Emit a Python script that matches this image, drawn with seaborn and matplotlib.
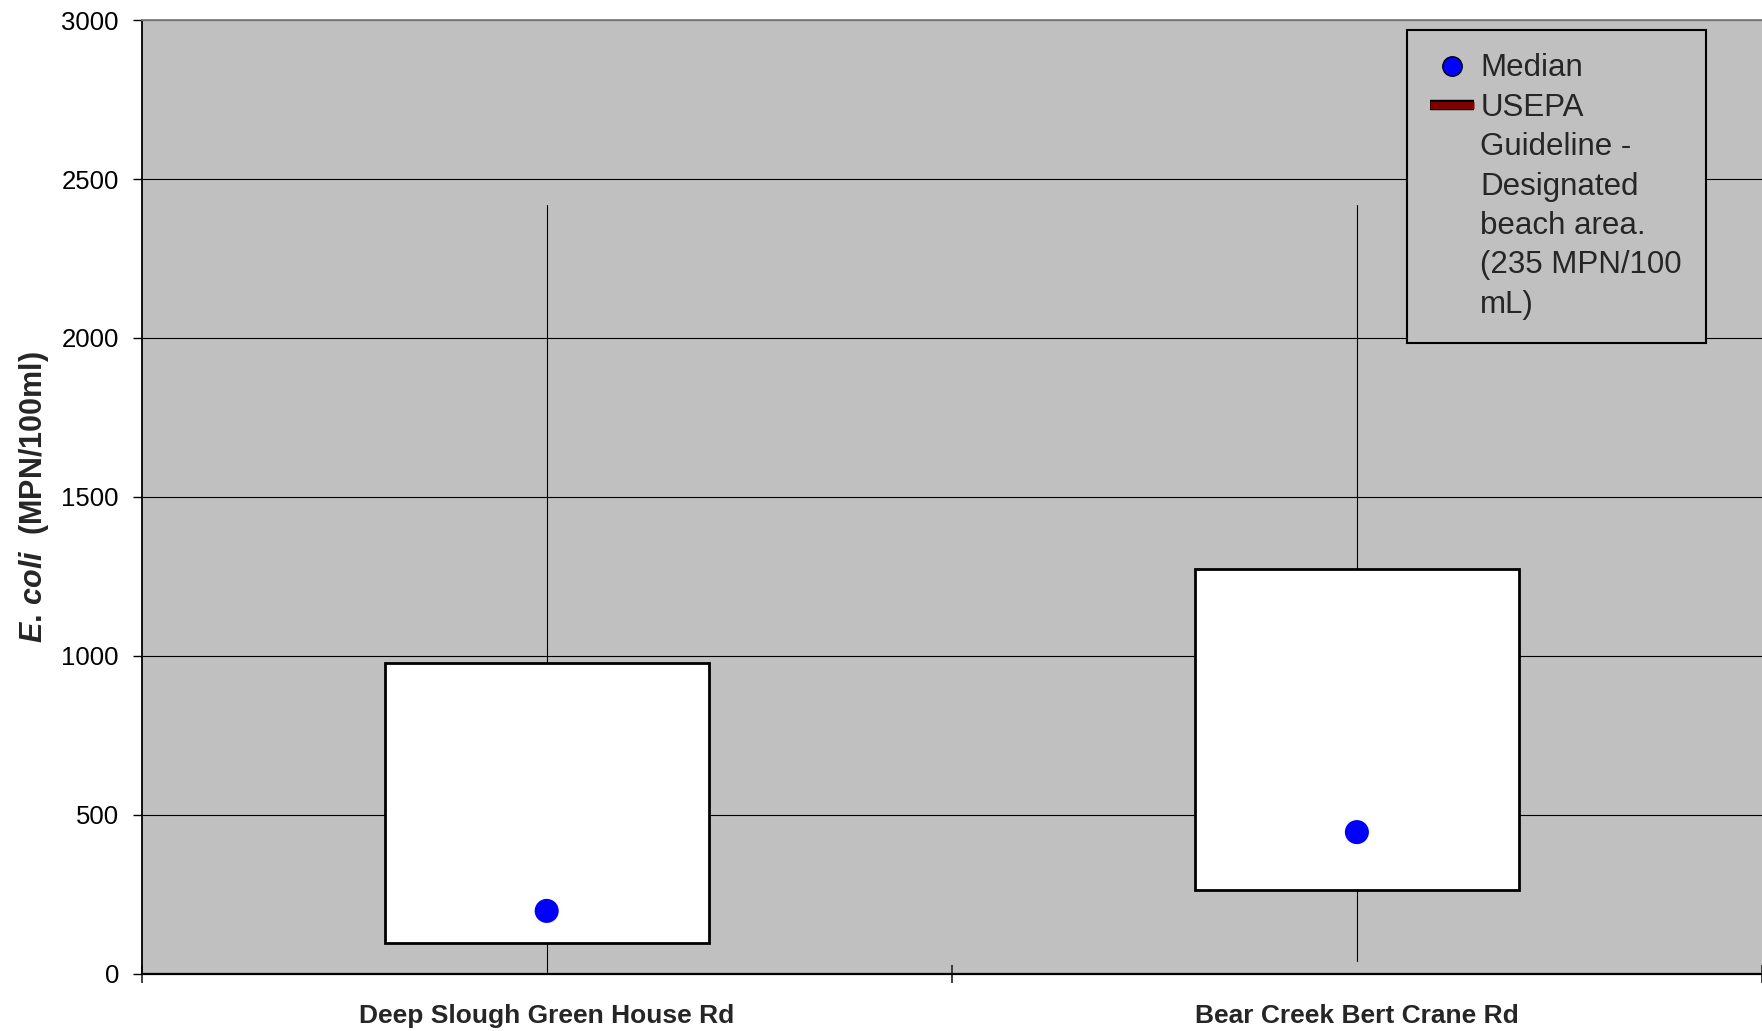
import matplotlib
matplotlib.use("Agg")
import matplotlib.pyplot as plt
import matplotlib.patheffects as pe
from matplotlib.lines import Line2D
import seaborn as sns
import numpy as np

# === Data ===
sites = ["Deep Slough Green House Rd", "Bear Creek Bert Crane Rd"]
whisker_low = [5, 40]
q1 = [95, 263]
medians = [197, 445]
q3 = [978, 1274]
whisker_high = [2419.6, 2419.6]

y_ticks = [0, 500, 1000, 1500, 2000, 2500, 3000]
guide_label_lines = ["USEPA", "Guideline -", "Designated", "beach area.",
                     "(235 MPN/100", "mL)"]

sns.set_theme(style="white")
plt.rcParams["font.family"] = ["Liberation Sans", "DejaVu Sans"]
plt.rcParams["mathtext.fontset"] = "custom"
plt.rcParams["mathtext.it"] = "Liberation Sans:italic:bold"
plt.rcParams["mathtext.rm"] = "Liberation Sans:bold"

fig = plt.figure(figsize=(17.62, 10.31), dpi=100)
ax = fig.add_axes([141.6 / 1762, 1 - 973.5 / 1031, 1 - 141.6 / 1762, (973.5 - 20.2) / 1031])
ax.set_facecolor("#C0C0C0")

positions = np.arange(len(sites))
stats = [
    {"whislo": lo, "q1": a, "med": m, "q3": b, "whishi": hi}
    for lo, a, m, b, hi in zip(whisker_low, q1, medians, q3, whisker_high)
]
ax.bxp(stats, positions=positions, widths=0.4, patch_artist=True,
       showcaps=False, showfliers=False,
       boxprops=dict(facecolor="white", edgecolor="black", linewidth=2.0),
       whiskerprops=dict(color="black", linewidth=0.8),
       medianprops=dict(linewidth=0))

sns.scatterplot(x=positions, y=medians, ax=ax, s=300, color="#0000FF",
                edgecolor="none", zorder=5, legend=False)

# axes styling
ax.set_xlim(-0.5, 1.5)
ax.set_ylim(0, 3000)
ax.set_yticks(y_ticks)
ax.set_yticklabels([str(v) for v in y_ticks], fontsize=18.5)
ax.yaxis.grid(True, color="black", linewidth=0.8)
ax.xaxis.grid(False)
ax.set_axisbelow(True)
ax.tick_params(axis="y", direction="out", length=6.3, width=1, pad=10, left=True, colors="black")

ax.set_xticks([-0.5, 0.5, 1.5])
ax.set_xticklabels([])
ax.tick_params(axis="x", which="major", direction="inout", length=12.5, width=1.3, bottom=True, color="#333333")
ax.set_xticks(positions, minor=True)
ax.set_xticklabels(sites, minor=True, fontsize=19, fontweight="bold")
ax.tick_params(axis="x", which="minor", length=0, pad=22)

for side in ["left", "bottom"]:
    ax.spines[side].set_color("black")
ax.spines["left"].set_linewidth(1.3)
ax.spines["bottom"].set_linewidth(1.6)
ax.spines["top"].set_color("#808080")
ax.spines["top"].set_linewidth(1.3)
ax.spines["right"].set_visible(False)

ax.set_ylabel(r"$\mathit{E.\,coli}$  (MPN/100ml)", fontsize=22, fontweight="bold")
ax.yaxis.set_label_coords((51 - 141.6) / 1620.4, 0.5)

# legend
median_handle = Line2D([], [], ls="none", marker="o", ms=14, mfc="#0000FF", mec="black", mew=1)
guide_handle = Line2D([], [], color="#800000", lw=5, solid_capstyle="butt",
                      path_effects=[pe.Stroke(linewidth=7.5, foreground="black"), pe.Normal()])
blank = Line2D([], [], ls="none")
handles = [median_handle, guide_handle] + [blank] * (len(guide_label_lines) - 1)
labels = ["Median"] + guide_label_lines
leg = ax.legend(handles, labels, loc="upper left",
                bbox_to_anchor=(1407 / 1762, 1 - 30 / 1031), bbox_transform=fig.transFigure,
                borderaxespad=0, fontsize=22.5, frameon=True, fancybox=False,
                facecolor="#C0C0C0", edgecolor="black", framealpha=1,
                handlelength=1.4, handletextpad=0.2, labelspacing=0.3, borderpad=0.75)
leg.get_frame().set_linewidth(1.5)

fig.savefig("out.png", dpi=100)
